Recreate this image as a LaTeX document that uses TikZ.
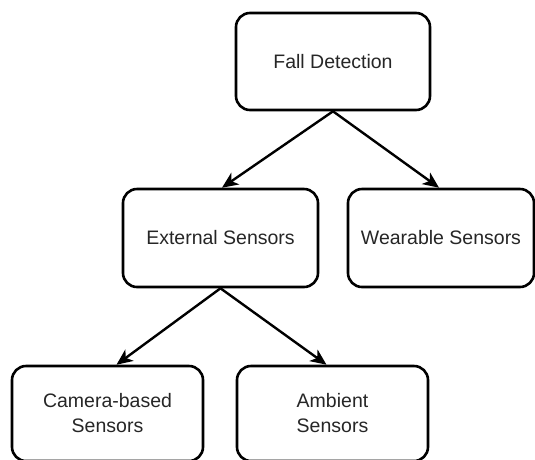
\documentclass[tikz,border=0pt]{standalone}
\usepackage{fontspec}
\setmainfont{Liberation Sans}
\usetikzlibrary{arrows.meta,calc}
\begin{document}
\begin{tikzpicture}[x=1pt,y=-1pt,
  box/.style={draw=black, line width=2.6pt, rounded corners=14pt, fill=white,
    inner sep=0pt, align=center, font=\fontsize{19.5}{25}\selectfont, text=black!85},
  link/.style={line width=2.4pt, -{Stealth[length=16pt,width=14pt,inset=4.5pt]}}]
  \useasboundingbox (0,0) rectangle (535,459);
  \clip (0,0) rectangle (535,459);
  % tree of boxes
  \node[box, minimum width=194pt, minimum height=97pt] (fall) at (333,61.5) {Fall Detection};
  \node[box, minimum width=195pt, minimum height=98pt] (ext) at (220.5,238) {External Sensors};
  \node[box, minimum width=186pt, minimum height=98pt] (wear) at (441,238) {Wearable Sensors};
  \node[box, minimum width=191pt, minimum height=95pt] (cam) at (107.5,413.5) {Camera-based\\Sensors};
  \node[box, minimum width=191pt, minimum height=95pt] (amb) at (332.5,413.5) {Ambient\\Sensors};
  % connectors
  \draw[link] (fall.south) -- ($(ext.north)+(1.5,0)$);
  \draw[link] (fall.south) -- ($(wear.north)+(-2,0)$);
  \draw[link] (ext.south) -- ($(cam.north)+(9,0)$);
  \draw[link] (ext.south) -- ($(amb.north)+(-6,0)$);
\end{tikzpicture}
\end{document}
